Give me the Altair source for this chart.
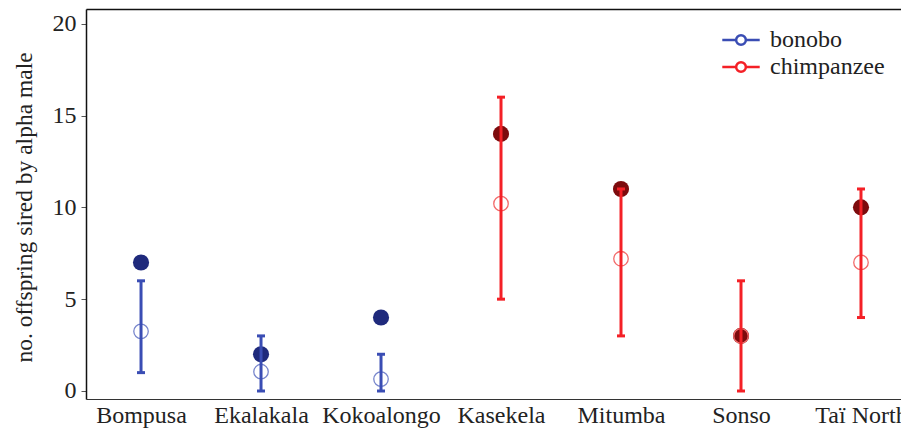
import altair as alt
import pandas as pd

sites = ["Bompusa", "Ekalakala", "Kokoalongo", "Kasekela", "Mitumba", "Sonso", "Taï North"]
species = ["bonobo", "bonobo", "bonobo", "chimpanzee", "chimpanzee", "chimpanzee", "chimpanzee"]
observed = [7, 2, 4, 14, 11, 3, 10]
expected = [3.25, 1.05, 0.65, 10.2, 7.2, 3.0, 7.0]
range_lo = [1, 0, 0, 5, 3, 0, 4]
range_hi = [6, 3, 2, 16, 11, 6, 11]

df = pd.DataFrame({
    "site": sites, "species": species, "observed": observed,
    "expected": expected, "lo": range_lo, "hi": range_hi,
})

FONT = "Liberation Serif"
sp_dom = ["bonobo", "chimpanzee"]
bar_col = alt.Scale(domain=sp_dom, range=["#3a4db4", "#f42026"])
dot_col = alt.Scale(domain=sp_dom, range=["#1f2a7c", "#7d0b0d"])
open_col = alt.Scale(domain=sp_dom, range=["#7886cc", "#f26a6a"])

xscale = alt.Scale(type="point", domain=sites, padding=0.396, align=0.579)
yscale = alt.Scale(domain=[-0.436, 20.8], nice=False, zero=False)

xenc_axis = alt.X("site:N", scale=xscale, sort=sites,
                  axis=alt.Axis(title=None, ticks=False, labelAngle=0, labelFont=FONT,
                                labelFontSize=24, labelColor="#222222", labelPadding=4,
                                domainColor="#333333", domainWidth=1.2, grid=False))
xenc = alt.X("site:N", scale=xscale, sort=sites, axis=None)

yaxis = alt.Axis(title="no. offspring sired by alpha male", values=[0, 5, 10, 15, 20],
                 labelFont=FONT, labelFontSize=24, labelColor="#222222", labelPadding=5,
                 tickSize=5, tickColor="#555555", domainColor="#111111", domainWidth=1.5,
                 titleFont=FONT, titleFontSize=23.5, titleFontWeight="normal",
                 titleColor="#222222", titlePadding=16, titleY=198, grid=False)

base = alt.Chart(df)

filled = base.mark_circle(size=260, opacity=1).encode(
    x=xenc_axis,
    y=alt.Y("observed:Q", scale=yscale, axis=yaxis),
    color=alt.Color("species:N", scale=dot_col, legend=None),
)

opened = base.mark_point(size=210, filled=False, strokeWidth=1.3, opacity=1).encode(
    x=xenc,
    y=alt.Y("expected:Q", scale=yscale),
    color=alt.Color("species:N", scale=open_col, legend=None),
)

legend_path = ("M-2,0L-0.52,0M0.52,0L2,0"
               "M-0.52,0A0.52,0.52 0 1,0 0.52,0A0.52,0.52 0 1,0 -0.52,0")

rules = base.mark_rule(strokeWidth=3).encode(
    x=xenc,
    y=alt.Y("lo:Q", scale=yscale),
    y2="hi:Q",
    color=alt.Color("species:N", scale=bar_col,
                    legend=alt.Legend(title=None, orient="none", legendX=639, legendY=15,
                                      padding=4, labelFont=FONT, labelFontSize=24,
                                      labelColor="#222222", symbolType=legend_path,
                                      symbolSize=350, symbolStrokeWidth=2.5,
                                      symbolFillColor="white", rowPadding=3,
                                      labelOffset=17)),
)

caps_lo = base.mark_tick(thickness=3, size=8, opacity=1).encode(
    x=xenc, y=alt.Y("lo:Q", scale=yscale),
    color=alt.Color("species:N", scale=bar_col, legend=None),
)
caps_hi = base.mark_tick(thickness=3, size=8, opacity=1).encode(
    x=xenc, y=alt.Y("hi:Q", scale=yscale),
    color=alt.Color("species:N", scale=bar_col, legend=None),
)

topline = base.mark_tick(opacity=0).encode(
    x=alt.X("site:N", scale=xscale, sort=sites,
            axis=alt.Axis(orient="top", title=None, labels=False, ticks=False,
                          domainColor="#111111", domainWidth=1.5, grid=False)),
    y=alt.Y("hi:Q", scale=yscale),
)

chart = alt.layer(filled, opened, rules, caps_lo, caps_hi, topline).resolve_scale(
    color="independent"
).resolve_axis(x="independent").properties(
    width=815, height=390,
    autosize=alt.AutoSizeParams(type="none"),
    padding={"left": 78, "top": 1, "right": 0, "bottom": 30},
).configure_view(stroke=None)

chart.save("out.html", embed_options={"renderer": "svg", "actions": False})
